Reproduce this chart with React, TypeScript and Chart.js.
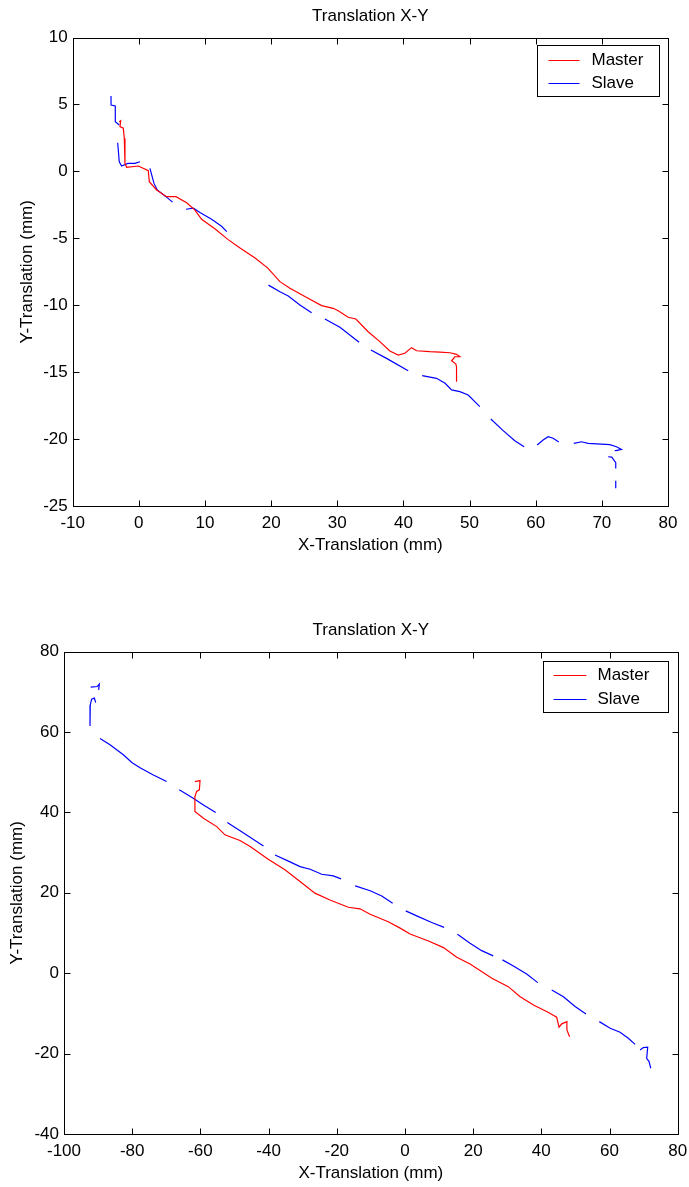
import React, { useEffect, useRef } from "react";
import { Chart, registerables } from "chart.js";

Chart.register(...registerables);

const FONT_FAMILY = "'Liberation Sans', Arial, Helvetica, sans-serif";
const TITLE = "Translation X-Y";
const X_LABEL = "X-Translation (mm)";
const Y_LABEL = "Y-Translation (mm)";
const SERIES_NAMES = ["Master", "Slave"];
const MASTER_COLOR = "#ff0000";
const SLAVE_COLOR = "#0000ff";

// ---------- Figure 1 ----------
const fig1XTicks = [-10, 0, 10, 20, 30, 40, 50, 60, 70, 80];
const fig1YTicks = [-25, -20, -15, -10, -5, 0, 5, 10];

const fig1MasterX = [
  -2.96, -2.75, -2.85, -2.35, -2.2, -2.1, -1.84, -0.08, 1.43, 1.58, 2.69, 4.2, 5.61, 7.23, 8.48, 9.49,
  11.54, 13.5, 15.3, 17.57, 19.5, 21.33, 22.84, 25.86, 27.63, 29.38, 30.14, 31.65, 32.81, 34.67, 36.44,
  37.95, 39.21, 40.22, 41.23, 41.99, 44.0, 45.51, 47.03, 48.03, 48.53, 47.78, 47.28, 47.93, 48.03, 48.03,
];
const fig1MasterY = [
  3.71, 3.78, 3.34, 3.22, 2.47, 0.6, 0.3, 0.4, 0.05, -0.77, -1.39, -1.89, -1.89, -2.34, -2.89, -3.58,
  -4.3, -5.1, -5.73, -6.47, -7.23, -8.24, -8.74, -9.56, -10.03, -10.23, -10.41, -10.9, -11.03, -11.98, -12.72,
  -13.42, -13.72, -13.59, -13.17, -13.4, -13.47, -13.5, -13.55, -13.67, -13.85, -13.85, -14.15, -14.39, -14.6, -15.71,
];

const fig1SlaveX = [
  -4.21, -4.2, -3.56, -3.56, -2.96, null,
  -3.2, -2.96, -2.6, -1.67, -0.58, 0.17, null,
  1.68, 1.94, 2.29, 2.79, 4.1, 5.1, null,
  7.13, 8.24, 9.3, 11.0, 12.5, 13.3, null,
  19.6, 21.33, 22.59, 24.35, 26.12, null,
  28.13, 30.4, 33.3, null,
  35.08, 37.45, 40.72, null,
  42.84, 45.0, 46.3, 47.28, 48.53, 49.79, 51.55, null,
  53.21, 55.08, 56.84, 58.25, null,
  60.22, 61.12, 61.88, 62.63, 63.49, null,
  65.76, 66.92, 67.92, 71.2, 72.21, 72.97, 71.96, 72.5, null,
  70.95, 71.5, 72.1, 72.1, null,
  72.1, 72.1,
];
const fig1SlaveY = [
  5.63, 4.96, 4.88, 3.71, 3.46, null,
  2.14, 0.72, 0.4, 0.6, 0.6, 0.72, null,
  0.23, -0.27, -0.9, -1.39, -1.89, -2.3, null,
  -2.83, -2.75, -3.1, -3.58, -4.1, -4.5, null,
  -8.5, -8.99, -9.31, -9.98, -10.56, null,
  -11.03, -11.65, -12.77, null,
  -13.35, -13.97, -14.89, null,
  -15.26, -15.46, -15.83, -16.33, -16.46, -16.71, -17.58, null,
  -18.5, -19.37, -20.12, -20.57, null,
  -20.44, -20.07, -19.82, -19.94, -20.22, null,
  -20.32, -20.2, -20.32, -20.42, -20.57, -20.77, -20.87, -20.85, null,
  -21.32, -21.35, -21.76, -22.19, null,
  -23.11, -23.68,
];

// ---------- Figure 2 ----------
const fig2XTicks = [-100, -80, -60, -40, -20, 0, 20, 40, 60, 80];
const fig2YTicks = [-40, -20, 0, 20, 40, 60, 80];

const fig2MasterX = [
  -61.6, -60.1, -60.3, -61.1, -61.6, -61.6, -59.1, -55.2, -52.8, -48.4, -45.4, -40.1, -35.2, -30.77, -26.4,
  -22.0, -16.6, -13.2, -10.2, -4.9, -1.4, 1.5, 6.9, 11.3, 15.2, 19.1, 25.5, 30.3, 33.8, 37.7, 42.1, 44.5,
  45.2, 46.0, 47.5, 47.5, 48.3,
];
const fig2MasterY = [
  47.65, 47.9, 45.6, 45.2, 43.9, 40.2, 38.55, 36.45, 34.4, 33.0, 31.5, 28.35, 25.7, 22.8, 19.9,
  18.2, 16.4, 16.0, 14.65, 12.8, 11.2, 9.75, 8.0, 6.35, 3.95, 2.3, -1.25, -3.35, -5.85, -7.9, -9.8, -10.95,
  -13.45, -12.6, -12.05, -14.1, -15.8,
];

const fig2SlaveX = [
  -92.17, -90.23, -89.64, -89.84, null,
  -90.7, -91.1, -91.9, -92.3, -92.37, -92.37, null,
  -89.44, -86.5, -82.6, -80.1, -77.7, -73.8, -69.9, null,
  -66.2, -62.1, -59.1, -55.5, null,
  -52.1, -47.9, -41.5, null,
  -38.1, -34.5, -30.77, -27.8, -24.4, -21.0, -18.75, null,
  -14.6, -10.2, -6.8, -3.6, null,
  0.23, 3.45, 7.85, 11.5, null,
  15.4, 19.1, 22.5, 25.9, null,
  28.6, 31.8, 35.7, 38.95, null,
  43.05, 46.5, 49.9, 53.1, null,
  57.0, 60.2, 63.1, 65.5, 67.5, null,
  68.96, 69.9, 71.2, 70.9, 71.6, 72.1,
];
const fig2SlaveY = [
  71.14, 71.3, 71.9, 70.47, null,
  67.3, 68.4, 68.15, 66.7, 63.8, 61.5, null,
  58.35, 56.8, 54.3, 52.4, 51.1, 49.3, 47.65, null,
  45.6, 43.5, 41.85, 39.95, null,
  37.45, 35.2, 31.65, null,
  29.4, 28.0, 26.5, 25.85, 24.6, 24.2, 23.45, null,
  21.7, 20.5, 19.2, 17.4, null,
  15.5, 14.25, 12.6, 11.4, null,
  9.7, 7.45, 5.6, 4.3, null,
  3.3, 1.8, -0.2, -2.35, null,
  -4.2, -5.85, -8.3, -10.15, null,
  -12.05, -13.7, -14.7, -16.2, -17.7, null,
  -19.1, -18.5, -18.4, -21.2, -22.0, -23.65,
];

type Num = number | null;

function toPoints(xs: Num[], ys: Num[]) {
  return xs.map((x, i) => {
    const y = ys[i];
    if (x === null || y === null) return { x: NaN, y: NaN };
    return { x, y };
  });
}

const font = (size: number) => ({ family: FONT_FAMILY, size, weight: "normal" as const, lineHeight: 1.2 });

const framePlugin = {
  id: "matlabFrame",
  afterDraw(chart: any, _args: any, opts: any) {
    const { ctx, chartArea: a, scales } = chart;
    ctx.save();
    ctx.strokeStyle = "#000";
    ctx.lineWidth = 1;
    const L = Math.round(a.left) + 0.5;
    const R = Math.round(a.right) + 0.5;
    const T = Math.round(a.top) + 0.5;
    const B = Math.round(a.bottom) + 0.5;
    ctx.strokeRect(L, T, R - L, B - T);
    const tl = 6;
    ctx.beginPath();
    scales.x.ticks.forEach((t: any) => {
      const p = Math.round(scales.x.getPixelForValue(t.value)) + 0.5;
      ctx.moveTo(p, B);
      ctx.lineTo(p, B - tl);
      ctx.moveTo(p, T);
      ctx.lineTo(p, T + tl);
    });
    scales.y.ticks.forEach((t: any) => {
      const p = Math.round(scales.y.getPixelForValue(t.value)) + 0.5;
      ctx.moveTo(L, p);
      ctx.lineTo(L + tl, p);
      ctx.moveTo(R, p);
      ctx.lineTo(R - tl, p);
    });
    ctx.stroke();

    // legend box inside the axes, top-right
    const lg = opts.legend;
    const bx = Math.round(a.right - lg.right - lg.width) + 0.5;
    const by = Math.round(a.top + lg.top) + 0.5;
    ctx.fillStyle = "#fff";
    ctx.fillRect(bx, by, lg.width, lg.height);
    ctx.strokeStyle = "#000";
    ctx.strokeRect(bx, by, lg.width, lg.height);
    ctx.font = `17px ${FONT_FAMILY}`;
    ctx.textBaseline = "middle";
    ctx.textAlign = "left";
    chart.data.datasets.forEach((ds: any, i: number) => {
      const ry = by + lg.rows[i];
      ctx.strokeStyle = ds.borderColor;
      ctx.lineWidth = 1;
      ctx.beginPath();
      ctx.moveTo(bx + lg.lineStart, Math.round(ry) + 0.5);
      ctx.lineTo(bx + lg.lineEnd, Math.round(ry) + 0.5);
      ctx.stroke();
      ctx.fillStyle = "#000";
      ctx.fillText(ds.label, bx + lg.textX, ry + 1);
    });
    ctx.restore();
  },
};

type FigSpec = {
  height: number;
  plotLeft: number;
  plotRightPad: number;
  xTicks: number[];
  yTicks: number[];
  masterX: Num[];
  masterY: Num[];
  slaveX: Num[];
  slaveY: Num[];
  yTitlePad: number;
  legend: any;
};

function makeConfig(spec: FigSpec): any {
  return {
    type: "line",
    data: {
      datasets: [
        {
          label: SERIES_NAMES[0],
          data: toPoints(spec.masterX, spec.masterY),
          borderColor: MASTER_COLOR,
          backgroundColor: MASTER_COLOR,
          borderWidth: 1.2,
          pointRadius: 0,
          tension: 0,
          spanGaps: false,
          fill: false,
        },
        {
          label: SERIES_NAMES[1],
          data: toPoints(spec.slaveX, spec.slaveY),
          borderColor: SLAVE_COLOR,
          backgroundColor: SLAVE_COLOR,
          borderWidth: 1.2,
          pointRadius: 0,
          tension: 0,
          spanGaps: false,
          fill: false,
        },
      ],
    },
    options: {
      animation: false,
      responsive: false,
      devicePixelRatio: 1,
      events: [],
      layout: { padding: { top: 0, left: 0, right: spec.plotRightPad, bottom: 0 } },
      plugins: {
        legend: { display: false },
        tooltip: { enabled: false },
        title: {
          display: true,
          text: TITLE,
          color: "#000",
          font: font(17),
          fullSize: false,
          padding: { top: 5.8, bottom: 11.3 },
        },
        matlabFrame: { legend: spec.legend },
      },
      scales: {
        x: {
          type: "linear",
          position: "bottom",
          min: spec.xTicks[0],
          max: spec.xTicks[spec.xTicks.length - 1],
          afterBuildTicks: (s: any) => {
            s.ticks = spec.xTicks.map((v) => ({ value: v }));
          },
          afterFit: (s: any) => {
            s.height = 53;
            s.paddingLeft = 0;
            s.paddingRight = 0;
          },
          grid: { display: false, drawTicks: false },
          border: { display: false },
          ticks: { color: "#000", font: font(17), padding: 7, autoSkip: false, maxRotation: 0 },
          title: { display: true, text: X_LABEL, color: "#000", font: font(17), padding: { top: 0, bottom: 3.8 } },
        },
        y: {
          type: "linear",
          position: "left",
          min: spec.yTicks[0],
          max: spec.yTicks[spec.yTicks.length - 1],
          afterBuildTicks: (s: any) => {
            s.ticks = spec.yTicks.map((v) => ({ value: v }));
          },
          afterFit: (s: any) => {
            s.width = spec.plotLeft;
            s.paddingTop = 0;
            s.paddingBottom = 0;
          },
          grid: { display: false, drawTicks: false },
          border: { display: false },
          ticks: { color: "#000", font: font(17), padding: 5, autoSkip: false },
          title: { display: true, text: Y_LABEL, color: "#000", font: font(17), padding: { top: spec.yTitlePad, bottom: 0 } },
        },
      },
    },
    plugins: [framePlugin],
  };
}

const fig1: FigSpec = {
  height: 559,
  plotLeft: 72.7,
  plotRightPad: 21,
  xTicks: fig1XTicks,
  yTicks: fig1YTicks,
  masterX: fig1MasterX,
  masterY: fig1MasterY,
  slaveX: fig1SlaveX,
  slaveY: fig1SlaveY,
  yTitlePad: 17,
  legend: { right: 9, top: 7.5, width: 122, height: 51, lineStart: 11, lineEnd: 42, textX: 54, rows: [14, 37] },
};

const fig2: FigSpec = {
  height: 573,
  plotLeft: 64,
  plotRightPad: 11.3,
  xTicks: fig2XTicks,
  yTicks: fig2YTicks,
  masterX: fig2MasterX,
  masterY: fig2MasterY,
  slaveX: fig2SlaveX,
  slaveY: fig2SlaveY,
  yTitlePad: 7,
  legend: { right: 9.7, top: 9, width: 125, height: 51, lineStart: 10, lineEnd: 43, textX: 54, rows: [13, 37] },
};

function Figure({ spec, top }: { spec: FigSpec; top: number }) {
  const ref = useRef<HTMLCanvasElement | null>(null);
  useEffect(() => {
    if (!ref.current) return;
    const chart = new Chart(ref.current, makeConfig(spec));
    return () => chart.destroy();
  }, [spec]);
  return (
    <div style={{ position: "absolute", left: 0, top, width: 689, height: spec.height }}>
      <canvas ref={ref} width={689} height={spec.height} style={{ display: "block", width: 689, height: spec.height }} />
    </div>
  );
}

export default function App() {
  return (
    <div style={{ position: "absolute", left: 0, top: 0, width: 689, height: 1187, background: "#fff" }}>
      <Figure spec={fig1} top={0} />
      <Figure spec={fig2} top={614} />
    </div>
  );
}
